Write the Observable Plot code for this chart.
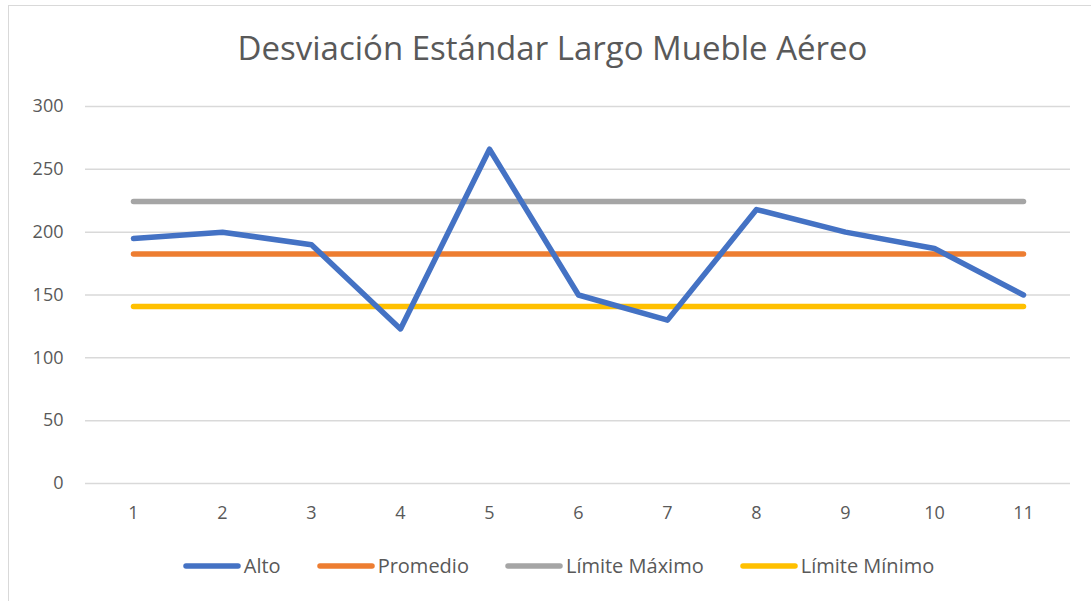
<!DOCTYPE html>
<html>
<head>
<meta charset="utf-8">
<script src="https://cdn.jsdelivr.net/npm/d3@7"></script>
<script src="https://cdn.jsdelivr.net/npm/@observablehq/plot@0.6"></script>
<style>
  html, body { margin: 0; padding: 0; background: #fff; }
  #wrap { position: relative; width: 1091px; height: 601px; overflow: hidden; font-family: "Open Sans", sans-serif; color: #595959; }
  #frame { position: absolute; left: 8px; top: 5px; width: 1200px; height: 700px; border: 1px solid #D9D9D9; box-sizing: border-box; }
  #title { position: absolute; left: 0; width: 1105px; top: 25px; text-align: center; font-size: 33px; }
  #chart { position: absolute; left: 0; top: 0; }
  #legend { position: absolute; top: 552px; left: 0; width: 1117px; display: flex; justify-content: center; gap: 36px; font-size: 20px; }
  .item { display: flex; align-items: center; }
  .item svg { margin-right: 3px; }
</style>
</head>
<body>
<div id="wrap">
  <div id="frame"></div>
  <div id="title">Desviación Estándar Largo Mueble Aéreo</div>
  <div id="chart"></div>
  <div id="legend"></div>
</div>
<script>
const categories = [1, 2, 3, 4, 5, 6, 7, 8, 9, 10, 11];
const alto = [195, 200, 190, 123, 266, 150, 130, 218, 200, 187, 150];
const promedio = [182.6, 182.6, 182.6, 182.6, 182.6, 182.6, 182.6, 182.6, 182.6, 182.6, 182.6];
const limiteMaximo = [224.4, 224.4, 224.4, 224.4, 224.4, 224.4, 224.4, 224.4, 224.4, 224.4, 224.4];
const limiteMinimo = [140.8, 140.8, 140.8, 140.8, 140.8, 140.8, 140.8, 140.8, 140.8, 140.8, 140.8];
const yTicks = [0, 50, 100, 150, 200, 250, 300];
const seriesNames = ["Alto", "Promedio", "Límite Máximo", "Límite Mínimo"];
const seriesColors = ["#4472C4", "#ED7D31", "#A5A5A5", "#FFC000"];

const seriesValues = [alto, promedio, limiteMaximo, limiteMinimo];
const rows = [];
seriesNames.forEach((name, s) => {
  categories.forEach((c, i) => rows.push({ serie: name, x: c, y: seriesValues[s][i] }));
});
const drawOrder = ["Límite Mínimo", "Límite Máximo", "Promedio", "Alto"];

const plot = Plot.plot({
  width: 1091,
  height: 540,
  marginTop: 106,
  marginBottom: 57,
  marginLeft: 85,
  marginRight: 21,
  style: { fontFamily: "'Open Sans', sans-serif", fontSize: "18px", color: "#595959", background: "transparent", overflow: "visible" },
  x: { type: "point", domain: categories, padding: 0.5, label: null },
  y: { domain: [0, 300], label: null },
  color: { domain: seriesNames, range: seriesColors },
  marks: [
    Plot.ruleY(yTicks, { stroke: "#D9D9D9", strokeWidth: 1.5 }),
    Plot.axisY({ ticks: yTicks, tickSize: 0, tickPadding: 22, label: null, fill: "#595959", fontSize: 18 }),
    Plot.axisX({ tickSize: 0, tickPadding: 23, label: null, fill: "#595959", fontSize: 18 }),
    ...drawOrder.map(name => Plot.line(rows.filter(r => r.serie === name), {
      x: "x", y: "y", stroke: "serie", strokeWidth: 5.5,
      strokeLinecap: "round", strokeLinejoin: "round"
    }))
  ]
});
document.getElementById("chart").appendChild(plot);

const legend = document.getElementById("legend");
seriesNames.forEach((name, i) => {
  const item = document.createElement("div");
  item.className = "item";
  item.innerHTML = `<svg width="58" height="10"><line x1="3" y1="5" x2="55" y2="5" stroke="${seriesColors[i]}" stroke-width="5.5" stroke-linecap="round"/></svg><span>${name}</span>`;
  legend.appendChild(item);
});
</script>
</body>
</html>
